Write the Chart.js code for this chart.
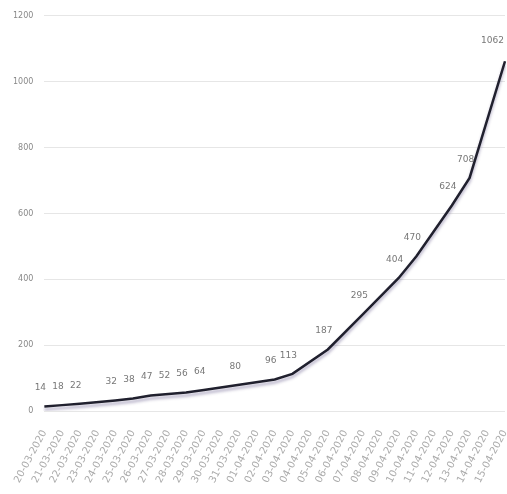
<!DOCTYPE html>
<html>
<head>
<meta charset="utf-8">
<script src="https://cdn.jsdelivr.net/npm/chart.js@4.4.1/dist/chart.umd.min.js"></script>
<style>
  html, body { margin: 0; padding: 0; background: #fff; }
  #wrap { width: 507px; height: 494px; }
</style>
</head>
<body>
<div id="wrap"><canvas id="casesChart"></canvas></div>
<script>
// dates along the x axis (one per day)
const dates = [
  '20-03-2020', '21-03-2020', '22-03-2020', '23-03-2020', '24-03-2020',
  '25-03-2020', '26-03-2020', '27-03-2020', '28-03-2020', '29-03-2020',
  '30-03-2020', '31-03-2020', '01-04-2020', '02-04-2020', '03-04-2020',
  '04-04-2020', '05-04-2020', '06-04-2020', '07-04-2020', '08-04-2020',
  '09-04-2020', '10-04-2020', '11-04-2020', '12-04-2020', '13-04-2020',
  '14-04-2020', '15-04-2020'
];
// values read from the labels; null = day without a label
const cases = [
  14, 18, 22, null, 32, 38, 47, 52, 56, 64,
  null, 80, null, 96, 113, null, 187, null, 295, null,
  404, 470, null, 624, 708, null, 1062
];
const yTicks = [0, 200, 400, 600, 800, 1000, 1200];

// labels above each point
const valueLabels = {
  id: 'valueLabels',
  afterDatasetsDraw(chart) {
    const ctx = chart.ctx;
    const meta = chart.getDatasetMeta(0);
    const last = cases.length - 1;
    ctx.save();
    ctx.font = '9px "DejaVu Sans"';
    ctx.fillStyle = '#777';
    ctx.textBaseline = 'bottom';
    meta.data.forEach((pt, i) => {
      if (cases[i] == null) return;
      if (i === last) {
        ctx.textAlign = 'right';
        ctx.fillText(String(cases[i]), pt.x - 1, pt.y - 16);
      } else {
        ctx.textAlign = 'center';
        ctx.fillText(String(cases[i]), pt.x - 4, pt.y - 14);
      }
    });
    ctx.restore();
  }
};

// soft shadow under the line
const lineShadow = {
  id: 'lineShadow',
  beforeDatasetDraw(chart) {
    const ctx = chart.ctx;
    ctx.save();
    ctx.shadowColor = 'rgba(90, 80, 130, 0.45)';
    ctx.shadowBlur = 3;
    ctx.shadowOffsetY = 3;
  },
  afterDatasetDraw(chart) {
    chart.ctx.restore();
  }
};

new Chart(document.getElementById('casesChart').getContext('2d'), {
  type: 'line',
  data: {
    labels: dates,
    datasets: [{
      data: cases,
      borderColor: '#20202e',
      borderWidth: 2.5,
      pointRadius: 0,
      tension: 0,
      spanGaps: true,
      fill: false
    }]
  },
  options: {
    responsive: true,
    maintainAspectRatio: false,
    animation: false,
    layout: { padding: { top: 11, right: 2, left: 2, bottom: 0 } },
    plugins: {
      legend: { display: false },
      tooltip: { enabled: false }
    },
    scales: {
      x: {
        offset: false,
        afterFit(axis) {
          axis.paddingRight = 0;
        },
        grid: { display: false },
        border: { display: false },
        ticks: {
          color: '#aaa',
          font: { size: 10, family: 'DejaVu Sans' },
          minRotation: 62,
          maxRotation: 62,
          autoSkip: false,
          padding: 9
        }
      },
      y: {
        min: 0,
        max: 1200,
        afterBuildTicks(axis) {
          axis.ticks = yTicks.map(v => ({ value: v }));
        },
        grid: { color: '#e6e6e6', lineWidth: 1, drawTicks: false },
        border: { display: false },
        ticks: {
          color: '#888',
          font: { size: 8, family: 'DejaVu Sans' },
          padding: 11,
          callback: v => String(v)
        }
      }
    }
  },
  plugins: [lineShadow, valueLabels]
});
</script>
</body>
</html>
